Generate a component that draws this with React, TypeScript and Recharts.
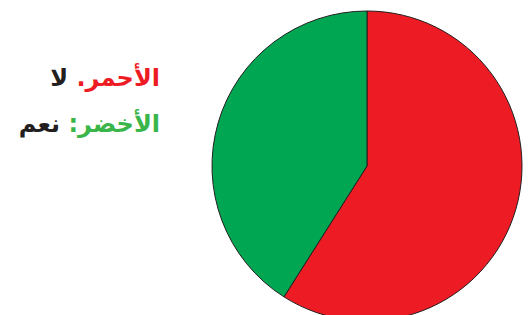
import React from "react";
import { PieChart, Pie, Cell } from "recharts";

const categories = ["الأحمر", "الأخضر"];
const values = [59, 41];
const answers = ["لا", "نعم"];
const separators = [".", ":"];
const colors = ["#ED1C24", "#00A651"];
const textColors = ["#ED1C24", "#39B54A"];

const data = categories.map((name, i) => ({ name, value: values[i] }));

export default function App() {
  return (
    <div style={{ position: "absolute", left: 0, top: 0, width: 530, height: 315, background: "#fff" }}>
      <PieChart width={530} height={315} margin={{ top: 0, right: 0, bottom: 0, left: 0 }}>
        <Pie
          data={data}
          dataKey="value"
          nameKey="name"
          cx={367}
          cy={166}
          outerRadius={155}
          startAngle={90}
          endAngle={-270}
          stroke="#231F20"
          strokeWidth={1}
          isAnimationActive={false}
        >
          {data.map((d, i) => (
            <Cell key={d.name} fill={colors[i]} />
          ))}
        </Pie>
      </PieChart>
      {categories.map((c, i) => (
        <div
          key={c}
          dir="rtl"
          style={{
            position: "absolute",
            left: 0,
            width: 160,
            top: 63 + i * 46,
            textAlign: "right",
            fontFamily: "'DejaVu Sans', sans-serif",
            fontWeight: "bold",
            fontSize: 24,
            lineHeight: "30px",
            whiteSpace: "nowrap",
          }}
        >
          <span style={{ color: textColors[i] }}>{c}{separators[i]}</span>{" "}
          <span style={{ color: "#231F20" }}>{answers[i]}</span>
        </div>
      ))}
    </div>
  );
}
